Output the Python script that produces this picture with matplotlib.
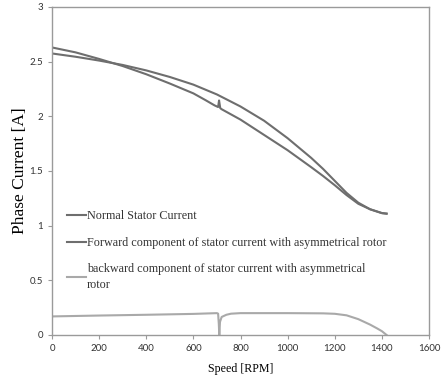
import numpy as np
import matplotlib.pyplot as plt

# data
normal_x = [0, 100, 200, 300, 400, 500, 600, 700, 800, 900, 1000, 1100, 1150, 1200, 1250, 1300, 1350, 1400, 1420]
normal_y = [2.575, 2.545, 2.51, 2.47, 2.42, 2.36, 2.29, 2.20, 2.09, 1.96, 1.80, 1.62, 1.52, 1.41, 1.30, 1.21, 1.15, 1.115, 1.11]

forward_x = [0, 100, 200, 300, 400, 500, 600, 650, 690, 705, 709, 714, 720, 800, 900, 1000, 1100, 1150, 1200, 1250, 1300, 1350, 1400, 1420]
forward_y = [2.63, 2.585, 2.525, 2.46, 2.385, 2.30, 2.21, 2.15, 2.10, 2.085, 2.145, 2.075, 2.065, 1.97, 1.83, 1.69, 1.535, 1.455, 1.37, 1.28, 1.20, 1.15, 1.115, 1.11]

backward_x = [0, 200, 400, 600, 700, 705, 708, 710, 713, 720, 740, 760, 800, 1000, 1150, 1200, 1250, 1300, 1350, 1380, 1400, 1420]
backward_y = [0.170, 0.178, 0.185, 0.193, 0.200, 0.195, 0.10, 0.0, 0.12, 0.165, 0.185, 0.195, 0.200, 0.200, 0.198, 0.194, 0.180, 0.145, 0.095, 0.06, 0.035, 0.0]

labels = ['Normal Stator Current',
          'Forward component of stator current with asymmetrical rotor',
          'backward component of stator current with asymmetrical\nrotor']

xticks = [0, 200, 400, 600, 800, 1000, 1200, 1400, 1600]
yticks = [0, 0.5, 1, 1.5, 2, 2.5, 3]
ytick_labels = ['0', '0.5', '1', '1.5', '2', '2.5', '3']

fig = plt.figure(figsize=(4.44, 3.77), dpi=100)
ax = fig.add_axes([52 / 444, 42 / 377, 377 / 444, 328 / 377])

dark = '#6e6e6e'
light = '#a9a9a9'
ax.plot(normal_x, normal_y, color=dark, lw=1.5, label=labels[0])
ax.plot(forward_x, forward_y, color=dark, lw=1.5, label=labels[1])
ax.plot(backward_x, backward_y, color=light, lw=1.5, label=labels[2])

ax.set_xlim(0, 1600)
ax.set_ylim(0, 3)
ax.set_xticks(xticks)
ax.set_yticks(yticks)
ax.set_yticklabels(ytick_labels)

for s in ax.spines.values():
    s.set_color('#9a9a9a')
    s.set_linewidth(1.0)
ax.tick_params(direction='out', length=3, color='#9a9a9a', labelsize=7, labelcolor='#333333')
for lab in ax.get_xticklabels() + ax.get_yticklabels():
    lab.set_family('Lato')

ax.set_xlabel('Speed [RPM]', family='Liberation Serif', fontsize=8.6, labelpad=7)
ax.set_ylabel('Phase Current [A]', family='Liberation Serif', fontsize=12.5, labelpad=1)

leg = ax.legend(loc='upper left', bbox_to_anchor=(0.04, 0.38), frameon=False,
                prop={'family': 'Liberation Serif', 'size': 8.7},
                handlelength=1.6, handletextpad=0.05, labelspacing=1.2,
                borderpad=0, borderaxespad=0)
for t in leg.get_texts():
    t.set_color('#333333')
    t.set_linespacing(1.35)

fig.savefig('out.png', dpi=100)
